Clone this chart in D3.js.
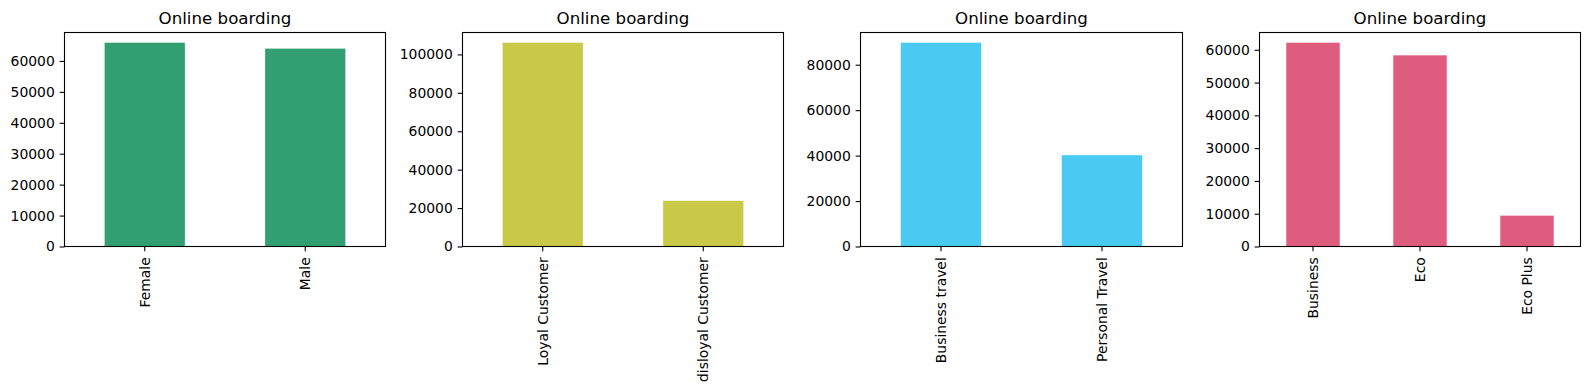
<!DOCTYPE html>
<html>
<head>
<meta charset="utf-8">
<script src="https://cdn.jsdelivr.net/npm/d3@7"></script>
<style>
  body { margin: 0; background: #fff; }
  text { font-family: "DejaVu Sans", sans-serif; fill: #000; }
  .title { font-size: 16.67px; }
</style>
</head>
<body>
<script>
// values (counts per category, "Online boarding")
const genderCats = ["Female", "Male"];
const genderVals = [65899, 63981];
const customerCats = ["Loyal Customer", "disloyal Customer"];
const customerVals = [106100, 23780];
const travelCats = ["Business travel", "Personal Travel"];
const travelVals = [89693, 40187];
const classCats = ["Business", "Eco", "Eco Plus"];
const classVals = [62160, 58309, 9411];

const genderTicks = [0, 10000, 20000, 30000, 40000, 50000, 60000];
const customerTicks = [0, 20000, 40000, 60000, 80000, 100000];
const travelTicks = [0, 20000, 40000, 60000, 80000];
const classTicks = [0, 10000, 20000, 30000, 40000, 50000, 60000];

const title = "Online boarding";

const W = 1589, H = 390;
const plotTop = 32.5, plotBottom = 246.5;
const tickLen = 4.86, tickPad = 4.86;

const panels = [
    { cats: genderCats, vals: genderVals, ticks: genderTicks, color: "#329f73", left: 64.5, right: 385.5 },
    { cats: customerCats, vals: customerVals, ticks: customerTicks, color: "#c9c947", left: 462.5, right: 783.5 },
    { cats: travelCats, vals: travelVals, ticks: travelTicks, color: "#48caf3", left: 860.5, right: 1182.5 },
    { cats: classCats, vals: classVals, ticks: classTicks, color: "#e05c7f", left: 1259.5, right: 1580.5 }
];

const svg = d3.select("body")
    .append("svg")
    .attr("width", W)
    .attr("height", H);

panels.forEach(p => {
    const x = d3.scaleBand()
        .domain(p.cats)
        .range([p.left, p.right])
        .paddingInner(0.5)
        .paddingOuter(0.25);
    const y = d3.scaleLinear()
        .domain([0, d3.max(p.vals) * 1.05])
        .range([plotBottom, plotTop]);

    const g = svg.append("g");

    // bars
    g.selectAll(".bar")
        .data(p.cats)
        .enter().append("rect")
        .attr("class", "bar")
        .attr("x", d => x(d))
        .attr("width", x.bandwidth())
        .attr("y", (d, i) => y(p.vals[i]))
        .attr("height", (d, i) => plotBottom - y(p.vals[i]))
        .style("fill", p.color);

    // y axis
    const ya = g.append("g")
        .attr("transform", "translate(" + p.left + ",0)")
        .call(d3.axisLeft(y).tickValues(p.ticks).tickFormat(d3.format("d"))
            .tickSize(tickLen).tickPadding(tickPad));
    ya.select(".domain").remove();
    ya.selectAll("line").attr("stroke-width", 1.1);
    ya.selectAll("text")
        .style("font-size", "13.9px")
        .style("font-family", "'DejaVu Sans', sans-serif")
        .style("fill", "#000");

    // x axis, labels turned upright
    const xa = g.append("g")
        .attr("transform", "translate(0," + plotBottom + ")")
        .call(d3.axisBottom(x).tickSize(tickLen).tickPadding(tickPad));
    xa.select(".domain").remove();
    xa.selectAll("line").attr("stroke-width", 1.1);
    xa.selectAll("text")
        .style("font-size", "13.9px")
        .style("font-family", "'DejaVu Sans', sans-serif")
        .style("fill", "#000")
        .attr("y", 0)
        .attr("dy", "0.35em")
        .attr("transform", "translate(0," + (tickLen + tickPad + 1) + ") rotate(-90)")
        .style("text-anchor", "end");

    // frame
    g.append("rect")
        .attr("x", p.left)
        .attr("y", plotTop)
        .attr("width", p.right - p.left)
        .attr("height", plotBottom - plotTop)
        .style("fill", "none")
        .style("stroke", "black")
        .style("stroke-width", 1.1);

    g.append("text")
        .attr("class", "title")
        .attr("x", (p.left + p.right) / 2)
        .attr("y", 23.8)
        .attr("text-anchor", "middle")
        .text(title);
});
</script>
</body>
</html>
